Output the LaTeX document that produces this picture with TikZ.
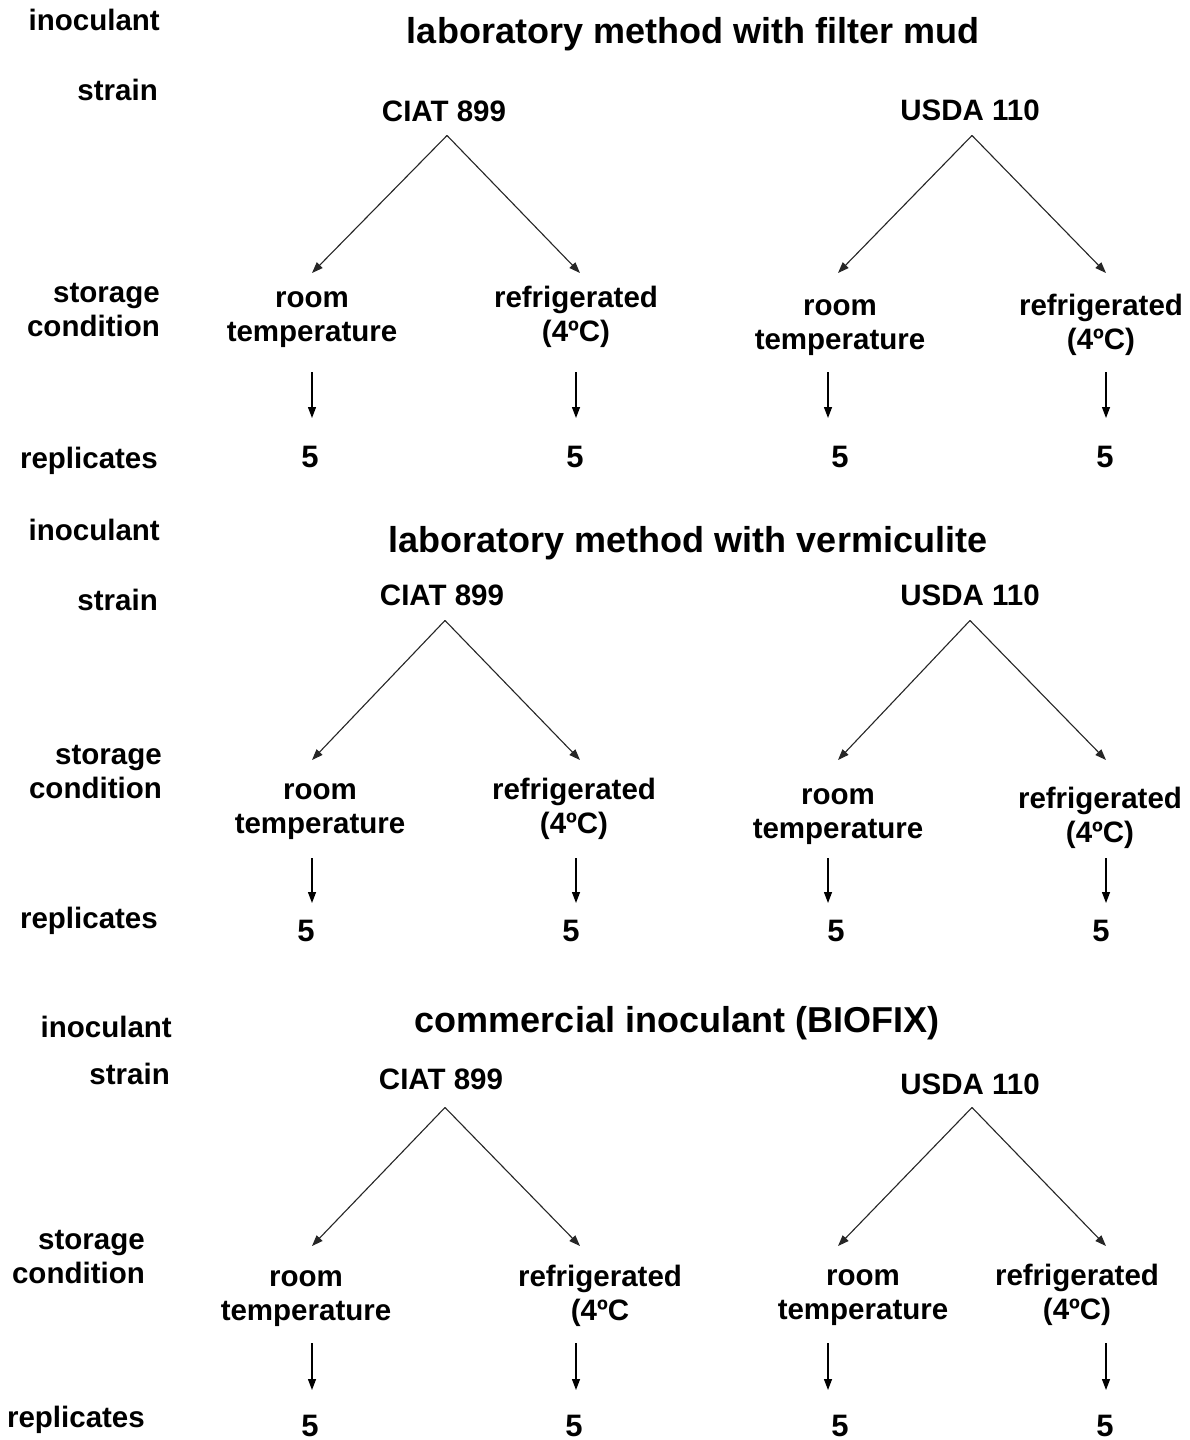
\documentclass[tikz,border=0pt]{standalone}
\usepackage{fontspec}
\setmainfont{Liberation Sans}
\usetikzlibrary{arrows.meta}
\newcommand\twoline[3]{\begin{tabular}[t]{@{}#1@{}}#2\\#3\end{tabular}}
\begin{document}
\begin{tikzpicture}[x=1bp,y=-1bp,
  lbl/.style={font=\fontsize{29.5bp}{34bp}\selectfont\bfseries, inner sep=0pt, anchor=base east},
  ttl/.style={font=\fontsize{36bp}{40bp}\selectfont\bfseries, inner sep=0pt, anchor=base},
  txt/.style={font=\fontsize{29.5bp}{34bp}\selectfont\bfseries, inner sep=0pt, anchor=base},
  num/.style={font=\fontsize{31bp}{34bp}\selectfont\bfseries, inner sep=0pt, anchor=base},
  arr/.style={-{Triangle[length=11bp,width=8bp]}, line width=1.1bp, draw=black!85},
  varr/.style={-{Triangle[length=11bp,width=8bp]}, line width=1.3bp, draw=black}]
\fill[white] (0,0) rectangle (1189,1440);
\useasboundingbox (0,0) rectangle (1189,1440);

% ================= panel 1 =================
\node[lbl] (i1) at (160,31) {inoculant};
\node[ttl] (h1) at (693,44) {laboratory method with filter mud};
\node[lbl] (st1) at (158,101) {strain};
\node[txt] (s1a) at (444,122) {CIAT 899};
\node[txt] (s1b) at (970,121) {USDA 110};
\node[lbl] (sc1) at (160,302) {\twoline{r}{storage}{condition}};
\node[txt] (c1a) at (312,307) {\twoline{c}{room}{temperature}};
\node[txt] (c1b) at (576,307) {\twoline{c}{refrigerated}{(4ºC)}};
\node[txt] (c1c) at (840,315) {\twoline{c}{room}{temperature}};
\node[txt] (c1d) at (1101,315) {\twoline{c}{refrigerated}{(4ºC)}};
\node[lbl] (rp1) at (158,468) {replicates};
\node[num] (r1a) at (310,467) {5};
\node[num] (r1b) at (575,467) {5};
\node[num] (r1c) at (840,467) {5};
\node[num] (r1d) at (1105,467) {5};
\coordinate (t1a) at (312,273); \coordinate (t1b) at (580,273);
\coordinate (t1c) at (838,273); \coordinate (t1d) at (1106,273);
\draw[arr] ([xshift=3bp,yshift=-13bp]s1a.south) -- (t1a);
\draw[arr] ([xshift=3bp,yshift=-13bp]s1a.south) -- (t1b);
\draw[arr] ([xshift=2bp,yshift=-14bp]s1b.south) -- (t1c);
\draw[arr] ([xshift=2bp,yshift=-14bp]s1b.south) -- (t1d);
\coordinate (u1a) at (312,372); \coordinate (v1a) at (312,418);
\coordinate (u1b) at (576,372); \coordinate (v1b) at (576,418);
\coordinate (u1c) at (828,372); \coordinate (v1c) at (828,418);
\coordinate (u1d) at (1106,372); \coordinate (v1d) at (1106,418);
\draw[varr] (u1a) -- (v1a);
\draw[varr] (u1b) -- (v1b);
\draw[varr] (u1c) -- (v1c);
\draw[varr] (u1d) -- (v1d);

% ================= panel 2 =================
\node[lbl] (i2) at (160,540) {inoculant};
\node[ttl] (h2) at (688,552) {laboratory method with vermiculite};
\node[lbl] (st2) at (158,610) {strain};
\node[txt] (s2a) at (442,605) {CIAT 899};
\node[txt] (s2b) at (970,605) {USDA 110};
\node[lbl] (sc2) at (162,764) {\twoline{r}{storage}{condition}};
\node[txt] (c2a) at (320,799) {\twoline{c}{room}{temperature}};
\node[txt] (c2b) at (574,799) {\twoline{c}{refrigerated}{(4ºC)}};
\node[txt] (c2c) at (838,804) {\twoline{c}{room}{temperature}};
\node[txt] (c2d) at (1100,808) {\twoline{c}{refrigerated}{(4ºC)}};
\node[lbl] (rp2) at (158,928) {replicates};
\node[num] (r2a) at (306,941) {5};
\node[num] (r2b) at (571,941) {5};
\node[num] (r2c) at (836,941) {5};
\node[num] (r2d) at (1101,941) {5};
\coordinate (t2a) at (312,760); \coordinate (t2b) at (580,760);
\coordinate (t2c) at (838,760); \coordinate (t2d) at (1106,760);
\draw[arr] ([xshift=3bp,yshift=-15bp]s2a.south) -- (t2a);
\draw[arr] ([xshift=3bp,yshift=-15bp]s2a.south) -- (t2b);
\draw[arr] ([xshift=0bp,yshift=-15bp]s2b.south) -- (t2c);
\draw[arr] ([xshift=0bp,yshift=-15bp]s2b.south) -- (t2d);
\coordinate (u2a) at (312,858); \coordinate (v2a) at (312,903);
\coordinate (u2b) at (576,858); \coordinate (v2b) at (576,903);
\coordinate (u2c) at (828,858); \coordinate (v2c) at (828,903);
\coordinate (u2d) at (1106,858); \coordinate (v2d) at (1106,903);
\draw[varr] (u2a) -- (v2a);
\draw[varr] (u2b) -- (v2b);
\draw[varr] (u2c) -- (v2c);
\draw[varr] (u2d) -- (v2d);

% ================= panel 3 =================
\node[lbl] (i3) at (172,1037) {inoculant};
\node[ttl] (h3) at (677,1032) {commercial inoculant (BIOFIX)};
\node[lbl] (st3) at (170,1084) {strain};
\node[txt] (s3a) at (441,1089) {CIAT 899};
\node[txt] (s3b) at (970,1094) {USDA 110};
\node[lbl] (sc3) at (145,1249) {\twoline{r}{storage}{condition}};
\node[txt] (c3a) at (306,1286) {\twoline{c}{room}{temperature}};
\node[txt] (c3b) at (600,1286) {\twoline{c}{refrigerated}{(4ºC}};
\node[txt] (c3c) at (863,1285) {\twoline{c}{room}{temperature}};
\node[txt] (c3d) at (1077,1285) {\twoline{c}{refrigerated}{(4ºC)}};
\node[lbl] (rp3) at (145,1427) {replicates};
\node[num] (r3a) at (310,1436) {5};
\node[num] (r3b) at (574,1436) {5};
\node[num] (r3c) at (840,1436) {5};
\node[num] (r3d) at (1105,1436) {5};
\coordinate (t3a) at (312,1246); \coordinate (t3b) at (580,1246);
\coordinate (t3c) at (838,1246); \coordinate (t3d) at (1106,1246);
\draw[arr] ([xshift=4bp,yshift=-18bp]s3a.south) -- (t3a);
\draw[arr] ([xshift=4bp,yshift=-18bp]s3a.south) -- (t3b);
\draw[arr] ([xshift=2bp,yshift=-13bp]s3b.south) -- (t3c);
\draw[arr] ([xshift=2bp,yshift=-13bp]s3b.south) -- (t3d);
\coordinate (u3a) at (312,1343); \coordinate (v3a) at (312,1390);
\coordinate (u3b) at (576,1343); \coordinate (v3b) at (576,1390);
\coordinate (u3c) at (828,1343); \coordinate (v3c) at (828,1390);
\coordinate (u3d) at (1106,1343); \coordinate (v3d) at (1106,1390);
\draw[varr] (u3a) -- (v3a);
\draw[varr] (u3b) -- (v3b);
\draw[varr] (u3c) -- (v3c);
\draw[varr] (u3d) -- (v3d);
\end{tikzpicture}
\end{document}
